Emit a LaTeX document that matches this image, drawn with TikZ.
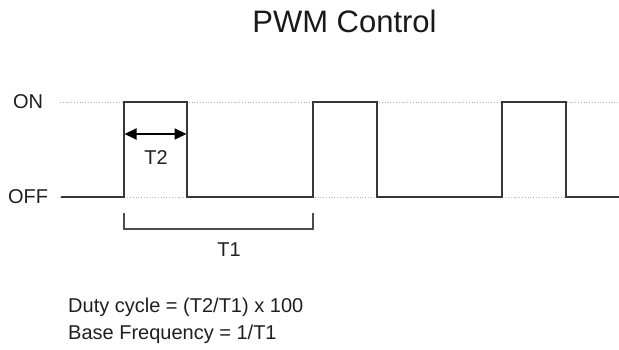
\documentclass[tikz,border=0pt]{standalone}
\usepackage{fontspec}
\setmainfont{Liberation Sans}
\usetikzlibrary{arrows.meta}
\begin{document}
\begin{tikzpicture}[x=1pt,y=1pt,
  lbl/.style={font=\fontsize{20}{24}\selectfont, text=black!88, inner sep=0pt},
  wave/.style={line width=1.5pt, draw=black!78},
  guide/.style={draw=black!30, line width=0.8pt, dotted},
  brace/.style={draw=black!70, line width=1.1pt},
  dim/.style={line width=2pt, draw=black, {Triangle[length=12pt,width=11pt]}-{Triangle[length=12pt,width=11pt]}}]
\useasboundingbox (0,0) rectangle (619,350);
% levels: ON y=248, OFF y=153
\node[font=\fontsize{31}{36}\selectfont, text=black!90, anchor=base, inner sep=0pt] (title) at (344.5,317) {PWM Control};
\node[lbl] (on) at (28,248) {ON};
\node[lbl] (off) at (28,153) {OFF};
\draw[guide] (60,248) -- (619,248);
\draw[guide] (60,153) -- (619,153);
\draw[wave] (61,153) -- (124,153) -- (124,248) -- (187,248) -- (187,153) -- (313,153) -- (313,248) -- (377,248) -- (377,153) -- (502,153) -- (502,248) -- (566,248) -- (566,153) -- (619,153);
\coordinate (a1) at (124.5,216);
\coordinate (a2) at (186.5,216);
\draw[dim] (a1) -- (a2);
\node[lbl] (t2) at (156,192.5) {T2};
\coordinate (b1) at (124,137);
\coordinate (b2) at (313,137);
\draw[brace] (b1) -- ([yshift=-16pt]b1) -- ([yshift=-16pt]b2) -- (b2);
\node[lbl] (t1) at (229,100) {T1};
\node[lbl, anchor=base west] (duty) at (68,37) {Duty cycle = (T2/T1) x 100};
\node[lbl, anchor=base west] (freq) at (68,10) {Base Frequency = 1/T1};
\end{tikzpicture}
\end{document}
